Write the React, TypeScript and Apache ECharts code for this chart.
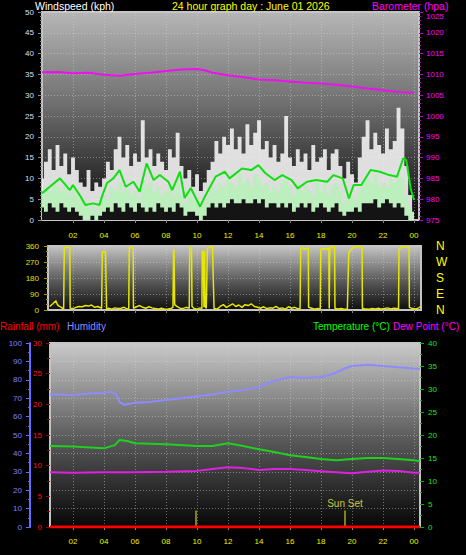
import React, { useEffect, useRef } from 'react';
import * as echarts from 'echarts';

const FONT = "'Liberation Sans', Arial, sans-serif";

// x-axis tick hours (24 shown as "00")
const hourTicks = [2, 4, 6, 8, 10, 12, 14, 16, 18, 20, 22, 24];

// ---- Wind (kph), sampled every 15 minutes from 00:00 to 24:00 ----
const gust = [
  10, 14, 17, 12, 18, 13, 16, 11, 15, 12, 9, 8, 12, 7, 9, 8,
  10, 14, 12, 17, 20, 15, 18, 13, 16, 14, 24, 15, 17, 13, 16, 14,
  12, 17, 15, 21, 13, 10, 12, 8, 11, 7, 9, 12, 14, 19, 16, 20,
  18, 22, 17, 20, 16, 23, 18, 21, 24, 17, 19, 15, 18, 14, 16, 25,
  15, 13, 17, 14, 16, 12, 18, 14, 15, 17, 12, 16, 17, 13, 10, 14,
  11, 9, 15, 20, 24, 17, 21, 18, 16, 22, 17, 19, 27, 22, 13, 6,
  2,
];
const speed = [
  6, 8, 7, 9, 8, 7, 9, 6, 8, 6, 5, 4, 3, 4, 2, 4,
  6, 5, 8, 7, 9, 7, 8, 6, 7, 5, 10, 8, 9, 7, 8, 6,
  7, 8, 6, 9, 6, 4, 7, 5, 5, 3, 4, 6, 8, 7, 9, 8,
  10, 9, 8, 11, 9, 10, 8, 11, 10, 8, 9, 7, 8, 7, 9, 10,
  8, 6, 9, 7, 8, 7, 6, 9, 7, 9, 6, 8, 9, 7, 4, 6,
  6, 5, 7, 9, 10, 9, 11, 8, 9, 8, 10, 9, 11, 10, 6, 3,
  1,
];
const lull = [
  3, 2, 4, 3, 2, 4, 3, 2, 3, 2, 1, 0, 0, 1, 0, 1,
  2, 3, 2, 4, 3, 2, 4, 3, 2, 4, 3, 2, 3, 2, 4, 3,
  2, 3, 2, 4, 3, 1, 2, 2, 1, 0, 1, 3, 4, 3, 4, 3,
  4, 5, 4, 4, 5, 4, 4, 5, 4, 5, 3, 4, 4, 3, 4, 3,
  4, 2, 3, 4, 3, 4, 2, 3, 4, 3, 2, 3, 4, 2, 1, 2,
  2, 3, 2, 4, 4, 4, 5, 3, 4, 5, 4, 3, 4, 3, 1, 0,
  0,
];
const avgHours = [0, 0.5, 1.16, 1.5, 1.8, 2.0, 2.5, 2.8, 3.3, 3.7, 3.9, 4.2, 4.6, 5.0, 5.4, 5.9, 6.3, 6.75, 7.2, 7.6, 8.15, 8.4, 8.9, 9.2, 9.6, 10.2, 10.5, 11.2, 11.8, 12.1, 12.9, 13.5, 13.96, 14.4, 15.0, 15.5, 16.1, 16.5, 17.1, 17.7, 18.4, 18.8, 19.4, 19.8, 20.1, 20.6, 21.2, 21.8, 22.4, 22.9, 23.3, 23.5, 23.8, 24];
const avgValues = [6.4, 8, 10, 8.5, 7.2, 8.4, 5.6, 3.6, 4, 3.6, 6, 8.9, 10, 12, 8, 9.2, 6.8, 13.6, 9.6, 10.8, 9.2, 7.2, 11.6, 5.3, 7.7, 3.2, 5.6, 10.4, 11.6, 10, 12.4, 12, 13.2, 11.3, 9.6, 10.8, 9.6, 7.6, 9.2, 9.6, 9.2, 10.8, 10, 5.2, 8.4, 8.4, 12, 11.6, 10.8, 10.4, 14.8, 14.4, 7.2, 4.8];

// ---- Barometer (hpa) ----
const baroHours = [0, 1, 2, 3, 4, 5, 6, 7, 8, 9, 10, 10.5, 11, 12, 13, 14, 15, 16, 17, 18, 19, 20, 21, 22, 23, 24];
const baroValues = [1010.5, 1010.6, 1010.3, 1010.4, 1009.9, 1009.7, 1010.1, 1010.4, 1010.8, 1011.2, 1011.3, 1011.0, 1010.4, 1009.8, 1009.3, 1008.8, 1008.6, 1008.3, 1008.0, 1007.8, 1007.5, 1007.1, 1006.6, 1006.2, 1005.8, 1005.5];

// ---- Wind direction (degrees) ----
const dirHours = [0.5, 0.7, 0.9, 1.0, 1.1, 1.25, 1.4, 1.44, 1.6, 1.8, 1.82, 2.0, 2.2, 2.4, 2.6, 2.8, 3.0, 3.2, 3.4, 3.6, 3.85, 3.89, 4.0, 4.1, 4.17, 4.3, 4.5, 4.7, 4.9, 5.1, 5.3, 5.5, 5.6, 5.63, 5.8, 5.89, 5.9, 6.1, 6.3, 6.5, 6.7, 6.9, 7.1, 7.3, 7.5, 7.7, 7.9, 8.1, 8.3, 8.45, 8.49, 8.52, 8.56, 8.7, 8.9, 9.1, 9.3, 9.5, 9.53, 9.6, 9.65, 9.68, 9.8, 10.0, 10.2, 10.32, 10.34, 10.4, 10.45, 10.5, 10.52, 10.6, 10.67, 10.8, 11.0, 11.1, 11.3, 11.5, 11.7, 11.9, 12.1, 12.3, 12.5, 12.7, 12.9, 13.1, 13.3, 13.5, 13.7, 13.9, 14.1, 14.3, 14.5, 14.7, 14.9, 15.1, 15.3, 15.5, 15.7, 15.9, 16.1, 16.3, 16.5, 16.65, 16.69, 16.8, 16.95, 17.1, 17.18, 17.2, 17.4, 17.6, 17.8, 17.95, 17.98, 18.2, 18.4, 18.5, 18.53, 18.56, 18.7, 18.88, 18.9, 19.1, 19.3, 19.5, 19.7, 19.79, 19.9, 20.1, 20.4, 20.65, 20.67, 20.9, 21.1, 21.3, 21.5, 21.7, 21.9, 22.1, 22.3, 22.5, 22.7, 22.9, 23.0, 23.03, 23.2, 23.5, 23.68, 23.7, 23.9, 24.1, 24.3, 24.45];
const dirValues = [20, 35, 52, 30, 22, 15, 5, 350, 355, 352, 10, 8, 15, 20, 18, 25, 22, 28, 15, 20, 10, 330, 325, 330, 5, 10, 5, 12, 8, 10, 15, 5, 8, 350, 352, 345, 10, 18, 25, 15, 10, 18, 12, 8, 5, 10, 6, 4, 8, 15, 340, 335, 30, 20, 10, 8, 15, 10, 345, 355, 340, 20, 10, 5, 12, 8, 330, 335, 15, 330, 20, 10, 345, 355, 352, 10, 5, 20, 30, 15, 25, 35, 20, 28, 15, 30, 25, 35, 20, 15, 10, 18, 8, 12, 10, 20, 8, 12, 5, 18, 10, 15, 8, 5, 345, 352, 340, 350, 345, 15, 10, 5, 8, 5, 340, 345, 342, 350, 8, 345, 355, 358, 10, 5, 8, 4, 6, 325, 335, 355, 358, 355, 10, 5, 4, 8, 6, 10, 5, 8, 12, 6, 10, 8, 5, 340, 355, 355, 350, 15, 8, 5, 12, 20];
const compass: Record<number, string> = { 0: 'N', 90: 'E', 180: 'S', 270: 'W', 360: 'N' };

// ---- Humidity (%), temperature and dew point (°C), rainfall (mm) ----
const humHours = [0.52, 1, 2, 3, 4, 4.5, 4.8, 5.0, 5.3, 6, 7, 8, 9, 10, 11, 12, 13, 14, 14.5, 15, 16, 17, 18, 18.5, 19, 19.5, 20, 21, 22, 23, 24, 24.39];
const humValues = [72, 72, 71.8, 72.5, 72.8, 73.5, 72, 68, 66.5, 67.5, 68, 69, 70, 71, 72, 73.5, 74.5, 76, 78, 79.5, 81.5, 81, 81.5, 82.5, 84, 86, 87.5, 88.2, 87.5, 86.8, 86.2, 86];
const tempHours = [0.52, 2, 4, 4.7, 5, 5.5, 6, 8, 10, 11, 12, 13, 14, 15, 16, 17, 18, 19, 20, 21, 22, 23, 24, 24.39];
const tempValues = [17.6, 17.5, 17.1, 17.8, 18.9, 18.7, 18.2, 18, 17.6, 17.6, 18.2, 17.6, 16.9, 16.3, 15.6, 15.2, 14.8, 14.5, 14.8, 15, 15, 14.8, 14.5, 14.3];
const dewHours = [0.52, 2, 4, 6, 8, 10, 11, 12, 13, 14, 15, 16, 17, 18, 19, 20, 21, 22, 23, 24, 24.39];
const dewValues = [11.9, 11.8, 11.9, 11.9, 12.0, 12.2, 12.6, 13, 12.8, 12.4, 12.6, 12.6, 12.4, 12.1, 11.9, 11.7, 12.0, 12.3, 12.2, 11.8, 11.8];
const rainHours = [0.52, 24.39];
const rainValues = [0, 0];

// ---- Sun events ----
const sunHours = [9.94, 19.55];
const sunLabels = ['', 'Sun Set'];
const sunMarkerTop = 9; // humidity-axis height of the marker line

const pairs = (xs: number[], ys: number[]) => xs.map((x, i) => [x, ys[i]]);

export default function App() {
  const ref = useRef<HTMLDivElement>(null);

  useEffect(() => {
    if (!ref.current) return;
    const chart = echarts.init(ref.current, null, { renderer: 'svg' });

    const windHours = gust.map((_, i) => i * 0.25);

    const grad = (stops: [number, string][]) =>
      new echarts.graphic.LinearGradient(0, 0, 0, 1, stops.map(([offset, color]) => ({ offset, color })));

    const split = { show: true, lineStyle: { color: 'rgba(215,215,215,0.45)', type: [1, 2] as any, width: 1 } };

    const xAxis = (gridIndex: number, min: number, max: number, showLabel: boolean, margin: number) => ({
      type: 'value',
      gridIndex,
      min,
      max,
      axisLine: { show: false },
      axisTick: { show: true, customValues: hourTicks, length: 3, lineStyle: { color: '#8a8a8a' } },
      axisLabel: {
        show: showLabel,
        customValues: hourTicks,
        formatter: (v: number) => String(v % 24).padStart(2, '0'),
        color: '#f0f000',
        fontSize: 8,
        fontFamily: FONT,
        margin,
      },
      splitLine: split,
    });

    const yBase = (o: any) => ({
      type: 'value',
      axisLine: { show: false },
      splitLine: { show: false },
      ...o,
    });

    const plain = (v: number) => String(v);

    const windArea = (name: string, values: number[], color: string, z: number) => ({
      name, type: 'line', xAxisIndex: 0, yAxisIndex: 0, step: 'middle', symbol: 'none',
      data: pairs(windHours, values), lineStyle: { opacity: 0 },
      areaStyle: { color, opacity: 1, origin: 'start' }, z,
    });

    const title = (text: string, left: number, top: number, fill: string, size: number) => ({
      type: 'text', left, top,
      style: { text, fill, font: `${size}px ${FONT}`, lineHeight: 9 },
    });

    const option: any = {
      backgroundColor: '#000',
      animation: false,
      textStyle: { fontFamily: FONT },
      graphic: [
        title('Windspeed (kph)', 35, 0, '#ffffff', 10.5),
        title('24 hour graph day : June 01 2026', 172, 0, '#ffff00', 10.5),
        title('Barometer (hpa)', 372, 0, '#ff00ff', 10.5),
        { type: 'text', left: 0, top: 321, style: { text: 'Rainfall (mm)', fill: '#ff0000', font: `10px ${FONT}` } },
        { type: 'text', left: 67, top: 321, style: { text: 'Humidity', fill: '#8c8cff', font: `10px ${FONT}` } },
        { type: 'text', left: 313, top: 321, style: { text: 'Temperature (°C)', fill: '#00ff00', font: `10px ${FONT}` } },
        { type: 'text', left: 393, top: 321, style: { text: 'Dew Point (°C)', fill: '#ff00ff', font: `10px ${FONT}` } },
      ],
      grid: [
        {
          left: 42, top: 12, width: 377, height: 208, show: true,
          backgroundColor: grad([[0, '#b6b6b6'], [0.45, '#6e6e6e'], [0.8, '#2c2c2c'], [1, '#0a0a0a']]),
          borderColor: '#c4c4c4', borderWidth: 2,
        },
        {
          left: 48, top: 246, width: 373, height: 64, show: true,
          backgroundColor: grad([[0, '#c4c4c4'], [0.5, '#626262'], [1, '#0e0e0e']]),
          borderColor: '#c4c4c4', borderWidth: 2,
        },
        {
          left: 50, top: 343, width: 370, height: 184, show: true,
          backgroundColor: grad([[0, '#cacaca'], [0.5, '#5e5e5e'], [1, '#060606']]),
          borderColor: '#c4c4c4', borderWidth: 2,
        },
      ],
      xAxis: [
        xAxis(0, 0, 24.32, true, 11),
        xAxis(1, 0.39, 24.45, false, 8),
        xAxis(2, 0.52, 24.39, true, 10),
      ],
      yAxis: [
        yBase({
          gridIndex: 0, position: 'left', min: 0, max: 50, interval: 5,
          axisTick: { show: true, length: 4, lineStyle: { color: '#8a8a8a' } },
          minorTick: { show: true, splitNumber: 5, length: 2, lineStyle: { color: '#8a8a8a' } },
          axisLabel: { color: '#cfe0ff', fontSize: 8, lineHeight: 8, fontFamily: FONT, margin: 8, formatter: plain },
          splitLine: split,
        }),
        yBase({
          gridIndex: 0, position: 'right', min: 975, max: 1025, interval: 5,
          axisTick: { show: true, length: 4, lineStyle: { color: '#c000c0' } },
          minorTick: { show: true, splitNumber: 5, length: 2, lineStyle: { color: '#c000c0' } },
          axisLabel: {
            color: '#ff00ff', fontSize: 8, lineHeight: 8, fontFamily: FONT, margin: 7, formatter: plain,
            verticalAlignMaxLabel: 'top',
          },
        }),
        yBase({
          gridIndex: 1, position: 'left', min: 0, max: 360, interval: 90,
          axisTick: { show: true, length: 4, lineStyle: { color: '#a0a000' } },
          minorTick: { show: true, splitNumber: 3, length: 2, lineStyle: { color: '#a0a000' } },
          axisLabel: { color: '#e0e000', fontSize: 8, fontFamily: FONT, margin: 9, formatter: plain },
          splitLine: split,
        }),
        yBase({
          gridIndex: 1, position: 'right', min: 0, max: 360, interval: 90,
          axisTick: { show: false },
          axisLabel: { color: '#ffff00', fontSize: 12, fontFamily: FONT, margin: 15, formatter: (v: number) => compass[v] ?? '' },
        }),
        yBase({
          gridIndex: 2, position: 'left', offset: 20, min: 0, max: 100, interval: 10,
          axisLine: { show: true, lineStyle: { color: '#6a6aff', width: 2 } },
          axisTick: { show: true, length: 4, lineStyle: { color: '#6a6aff' } },
          minorTick: { show: true, splitNumber: 2, length: 2, lineStyle: { color: '#6a6aff' } },
          axisLabel: { color: '#8080ff', fontSize: 8, fontFamily: FONT, margin: 8, formatter: plain },
          splitLine: split,
        }),
        yBase({
          gridIndex: 2, position: 'left', min: 0, max: 30, interval: 5,
          axisTick: { show: true, length: 4, lineStyle: { color: '#a00000' } },
          minorTick: { show: true, splitNumber: 2, length: 3, lineStyle: { color: '#a00000' } },
          axisLabel: { color: '#ff1010', fontSize: 8, fontFamily: FONT, margin: 8, formatter: plain },
        }),
        yBase({
          gridIndex: 2, position: 'right', min: 0, max: 40, interval: 5,
          axisTick: { show: true, length: 4, lineStyle: { color: '#10b010' } },
          minorTick: { show: true, splitNumber: 2, length: 2, lineStyle: { color: '#10b010' } },
          axisLabel: { color: '#20e020', fontSize: 8, fontFamily: FONT, margin: 8, formatter: plain },
        }),
      ],
      series: [
        windArea('gust', gust, 'rgba(242,242,242,0.9)', 2),
        windArea('speed', speed, '#bdeebd', 3),
        windArea('lull', lull, '#141414', 4),
        {
          name: 'average', type: 'line', xAxisIndex: 0, yAxisIndex: 0, symbol: 'none',
          data: pairs(avgHours, avgValues), lineStyle: { color: '#10e010', width: 2 }, z: 5,
        },
        {
          name: 'barometer', type: 'line', xAxisIndex: 0, yAxisIndex: 1, symbol: 'none',
          data: pairs(baroHours, baroValues), lineStyle: { color: '#ee10ee', width: 2 }, z: 5,
        },
        {
          name: 'direction', type: 'line', xAxisIndex: 1, yAxisIndex: 2, symbol: 'none',
          data: pairs(dirHours, dirValues), lineStyle: { color: '#e6e600', width: 1.5 }, z: 5,
        },
        {
          name: 'humidity', type: 'line', xAxisIndex: 2, yAxisIndex: 4, symbol: 'none',
          data: pairs(humHours, humValues), lineStyle: { color: '#8c8cff', width: 2 }, z: 5,
          markLine: {
            silent: true, symbol: 'none',
            lineStyle: { color: '#a8a820', width: 1.5, type: 'solid' },
            label: { show: true, position: 'end', color: '#c8c840', fontSize: 10, fontFamily: FONT, distance: 2 },
            data: sunHours.map((h, i) => [
              { coord: [h, 0] },
              { coord: [h, sunMarkerTop], label: { show: sunLabels[i] !== '', formatter: sunLabels[i] || ' ' } },
            ]),
          },
        },
        {
          name: 'rain', type: 'line', xAxisIndex: 2, yAxisIndex: 5, symbol: 'none',
          data: pairs(rainHours, rainValues), lineStyle: { color: '#ff0000', width: 3 }, z: 6,
        },
        {
          name: 'temperature', type: 'line', xAxisIndex: 2, yAxisIndex: 6, symbol: 'none',
          data: pairs(tempHours, tempValues), lineStyle: { color: '#20d020', width: 2 }, z: 5,
        },
        {
          name: 'dewpoint', type: 'line', xAxisIndex: 2, yAxisIndex: 6, symbol: 'none',
          data: pairs(dewHours, dewValues), lineStyle: { color: '#e020e0', width: 2 }, z: 5,
        },
      ],
    };

    chart.setOption(option);
    return () => chart.dispose();
  }, []);

  return (
    <div style={{ position: 'fixed', left: 0, top: 0, width: 466, height: 555, background: '#000' }}>
      <div ref={ref} style={{ width: 466, height: 555 }} />
    </div>
  );
}
